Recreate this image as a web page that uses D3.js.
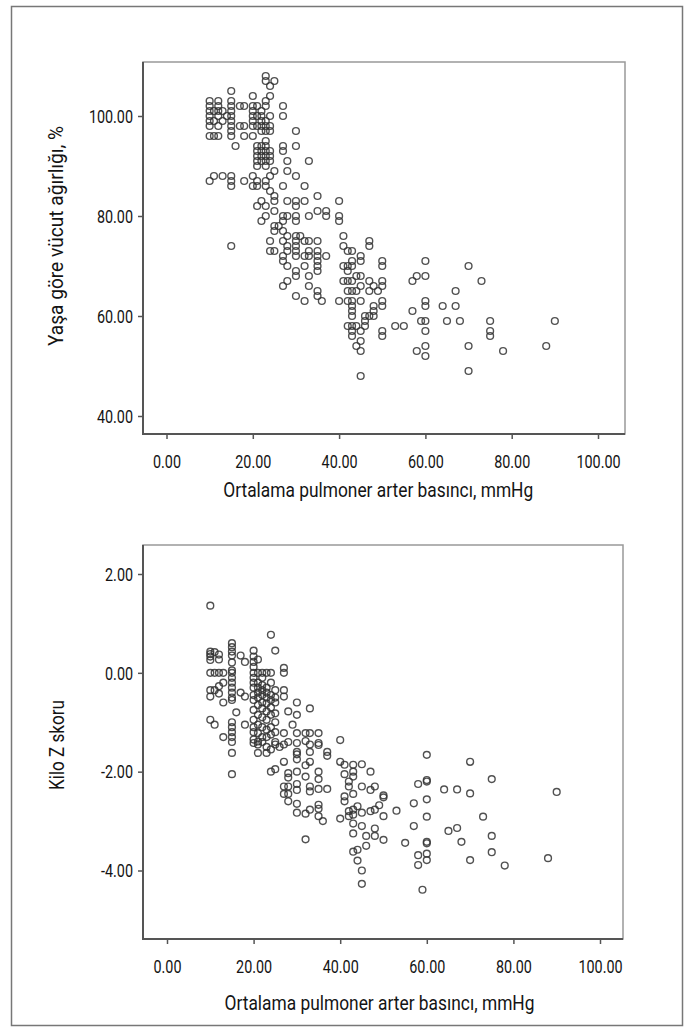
<!DOCTYPE html>
<html lang="tr">
  <head>
    <meta charset="utf-8">
    <script src="https://d3js.org/d3.v7.min.js"></script>
    <title>Scatter</title>
    <style>
      body{margin:0;background:#fff;}
      text{font-family:Roboto,"DejaVu Sans",sans-serif;fill:#141414;}
      .tick line{stroke:#555;stroke-width:1.5;}
      .domain{display:none;}
      .dot{fill:none;stroke:#333;stroke-width:1.4;stroke-opacity:0.85;}
    </style>
  </head>
  <body>
    <script>

      // data: [x, [y values]] columns

      var xTicks=[0,20,40,60,80,100];
      var weightTicks=[40,60,80,100];
      var zTicks=[-4,-2,0,2];
      var xTitle="Ortalama pulmoner arter basıncı, mmHg";
      var weightTitle="Yaşa göre vücut ağırlığı, %";
      var zTitle="Kilo Z skoru";

      var weightCols=[
        [10,[103,102,101,100,99,98,96,87]],
        [11,[101,99,96,88]],
        [12,[103,102,101,100,98,96]],
        [13,[101,99,88]],
        [14,[100]],
        [15,[105,103,102,101,100,99,98,97,96,88,87,86,74]],
        [16,[94]],
        [17,[102,98]],
        [18,[102,98,96,87]],
        [20,[104,102,101,100,99,98,96,88,86]],
        [21,[102,100,98,94,93,92,91,90,87,86,82]],
        [22,[101,100,99,98,97,94,93,92,91,83,79]],
        [23,[108,107,103,102,99,98,97,95,94,93,92,91,90,87,86,82,80]],
        [24,[106,104,100,98,97,93,92,91,88,85,75,73]],
        [25,[107,89,84,83,81,78,77,73]],
        [26,[78]],
        [27,[102,100,94,93,86,80,79,77,75,72,71,66]],
        [28,[91,89,83,80,76,74,73,70,67]],
        [30,[97,94,88,83,82,80,79,76,75,74,73,72,69,68,64]],
        [31,[76]],
        [32,[86,83,75,72,70,63]],
        [33,[91,80,75,73,72,68,66]],
        [35,[84,81,75,73,72,71,70,69,65,64]],
        [36,[63]],
        [37,[81,80,72]],
        [40,[83,80,79,63]],
        [41,[76,74,70,67]],
        [42,[73,70,69,67,65,63,58]],
        [43,[73,71,70,67,65,63,62,61,60,58,57,56]],
        [44,[68,65,58,54]],
        [45,[72,71,68,66,63,57,55,53,48]],
        [46,[60,59,58]],
        [47,[75,74,67,65,60]],
        [48,[66,62,61,60]],
        [49,[65]],
        [50,[71,70,67,66,63,62,57,56]],
        [53,[58]],
        [55,[58]],
        [57,[67,61]],
        [58,[68,53]],
        [59,[59]],
        [60,[71,68,63,62,59,57,54,52]],
        [64,[62]],
        [65,[59]],
        [67,[65,62]],
        [68,[59]],
        [70,[70,54,49]],
        [73,[67]],
        [75,[59,57,56]],
        [78,[53]],
        [88,[54]],
        [90,[59]]
      ];

      var zCols=[
        [10,[1.36,0.43,0.38,0.33,0.26,0,-0.35,-0.48,-0.95]],
        [11,[0.42,0,-0.35,-1.05]],
        [12,[0.37,0.27,0,-0.27,-0.42]],
        [13,[0,-0.2,-0.6,-1.3]],
        [15,[0.6,0.52,0.43,0.35,0.21,0.05,0,-0.1,-0.2,-0.3,-0.4,-0.5,-0.55,-1.0,-1.1,-1.2,-1.3,-1.4,-1.62,-2.05]],
        [16,[-0.8]],
        [17,[0.35,-0.4]],
        [18,[0.22,-0.48,-1.05]],
        [20,[0.45,0.33,0.22,0.12,0,-0.1,-0.2,-0.3,-0.45,-0.55,-0.75,-0.95,-1.1,-1.2,-1.35,-1.42]],
        [21,[0.27,0,-0.2,-0.3,-0.4,-0.5,-0.65,-0.85,-1.05,-1.22,-1.39,-1.45,-1.62]],
        [22,[0,-0.1,-0.25,-0.35,-0.45,-0.6,-0.72,-0.9,-1.1,-1.3,-1.4]],
        [23,[0,-0.3,-0.4,-0.5,-0.62,-0.78,-0.95,-1.15,-1.3,-1.5,-1.62]],
        [24,[0.77,0,-0.2,-0.45,-0.55,-0.7,-0.85,-1.1,-1.25,-1.55,-2.0]],
        [25,[0.45,-0.35,-0.5,-0.6,-0.82,-1.0,-1.2,-1.4,-1.45,-1.95]],
        [26,[-1.5]],
        [27,[0.1,0,-0.35,-0.48,-1.22,-1.45,-1.8,-2.3,-2.45]],
        [28,[-0.78,-1.4,-2.03,-2.12,-2.3,-2.45,-2.6]],
        [29,[-1.05]],
        [30,[-0.6,-0.85,-1.22,-1.42,-1.6,-1.65,-1.75,-2.0,-2.25,-2.37,-2.65,-2.83]],
        [32,[-1.22,-1.38,-1.87,-2.1,-2.85,-3.37]],
        [33,[-0.72,-1.22,-1.45,-1.6,-1.8,-2.3,-2.4,-2.77]],
        [35,[-1.22,-1.42,-1.46,-2.0,-2.15,-2.35,-2.67,-2.75,-2.9]],
        [36,[-3.0]],
        [37,[-1.6,-1.68,-2.35]],
        [40,[-1.36,-1.8,-2.95]],
        [41,[-1.86,-2.05,-2.5,-2.6]],
        [42,[-2.2,-2.3,-2.8,-2.9]],
        [43,[-1.86,-2.0,-2.1,-2.45,-2.77,-2.87,-3.05,-3.25,-3.62]],
        [44,[-2.7,-3.58,-3.8]],
        [45,[-1.85,-2.3,-2.83,-3.1,-4.0,-4.27]],
        [46,[-3.3,-3.5]],
        [47,[-2.0,-2.37,-2.8]],
        [48,[-2.3,-2.77,-3.15,-3.3]],
        [49,[-2.68]],
        [50,[-2.48,-2.52,-2.9,-3.38]],
        [53,[-2.79]],
        [55,[-3.44]],
        [57,[-2.64,-3.1]],
        [58,[-2.25,-3.69,-3.89]],
        [59,[-4.39]],
        [60,[-1.66,-2.17,-2.2,-2.56,-2.91,-3.42,-3.45,-3.66,-3.79]],
        [64,[-2.36]],
        [65,[-3.2]],
        [67,[-2.36,-3.14]],
        [68,[-3.42]],
        [70,[-1.8,-2.44,-3.79]],
        [73,[-2.91]],
        [75,[-2.15,-3.3,-3.63]],
        [78,[-3.9]],
        [88,[-3.75]],
        [90,[-2.41]]
      ];

      function flat(cols){
        var out=[];
        cols.forEach(function(c){
          c[1].forEach(function(v){ out.push({x:c[0],y:v}); });
        });
        return out;
      }

      // SPSS style labels: two decimals, plain hyphen for minus
      var fmt=function(d){ return d3.format(".2f")(d).replace("\u2212","-"); };

      // squeeze text to look like a condensed face
      function narrow(sel,k){
        sel.each(function(){
          var w=this.getComputedTextLength();
          d3.select(this).attr("textLength",w*k).attr("lengthAdjust","spacingAndGlyphs");
        });
      }

      var width=693, height=1032;

      var svg=d3.select("body").append("svg")
        .attr("width",width).attr("height",height);

      svg.append("rect").attr("width",width).attr("height",height).attr("fill","#fff");

      // outer frame
      svg.append("rect").attr("x",11.5).attr("y",6.5).attr("width",671).attr("height",1019)
        .attr("fill","none").attr("stroke","#777").attr("stroke-width",1.5);

      function panel(o){
        var g=svg.append("g");

        var x=d3.scaleLinear().domain([0,100]).range(o.xRange);
        var y=d3.scaleLinear().domain(o.yDomain).range(o.yRange);

        // plot box
        g.append("rect").attr("x",o.box[0]).attr("y",o.box[1])
          .attr("width",o.box[2]-o.box[0]).attr("height",o.box[3]-o.box[1])
          .attr("fill","#fff").attr("stroke","#999").attr("stroke-width",1.5);
        g.append("path").attr("d","M"+o.box[0]+","+o.box[1]+"V"+o.box[3]+"H"+o.box[2])
          .attr("fill","none").attr("stroke","#555").attr("stroke-width",2);

        // axes
        var xAxis=d3.axisBottom(x).tickValues(xTicks).tickSize(5).tickFormat(fmt);
        var xt=g.append("g").attr("transform","translate(0,"+o.box[3]+")").call(xAxis)
          .selectAll("text").style("font-size","17.5px").attr("dy",null).attr("y",o.tickBase);
        narrow(xt,0.82);

        var yAxis=d3.axisLeft(y).tickValues(o.yTicks).tickSize(5).tickPadding(5).tickFormat(fmt);
        var yt=g.append("g").attr("transform","translate("+o.box[0]+",0)").call(yAxis)
          .selectAll("text").style("font-size","17.5px").attr("dy","0.36em");
        narrow(yt,0.82);

        // titles
        g.append("text").attr("x",(o.xRange[0]+o.xRange[1])/2-4).attr("y",o.titleBase)
          .attr("text-anchor","middle").style("font-size","19.5px").text(xTitle)
          .attr("textLength",310).attr("lengthAdjust","spacingAndGlyphs");

        g.append("text").attr("transform","translate("+o.yTitleX+","+o.yTitleY+") rotate(-90)")
          .attr("text-anchor","middle").style("font-size","19.5px").text(o.yTitle)
          .attr("textLength",o.yTitleLen).attr("lengthAdjust","spacingAndGlyphs");

        // points
        g.selectAll("circle").data(flat(o.cols)).enter().append("circle")
          .attr("class","dot")
          .attr("cx",function(d){return x(d.x);})
          .attr("cy",function(d){return y(d.y);})
          .attr("r",3.4);
      }

      panel({
        cols:weightCols, yDomain:[40,100], yRange:[416,116], yTicks:weightTicks,
        xRange:[166.5,598], box:[143,62,625,434], tickBase:34, titleBase:497,
        yTitle:weightTitle, yTitleX:63, yTitleY:236, yTitleLen:220
      });

      panel({
        cols:zCols, yDomain:[-4,2], yRange:[870.5,574], yTicks:zTicks,
        xRange:[167,600], box:[143,545,623,939], tickBase:34, titleBase:1010,
        yTitle:zTitle, yTitleX:64, yTitleY:745, yTitleLen:90
      });

    </script>
  </body>
</html>
